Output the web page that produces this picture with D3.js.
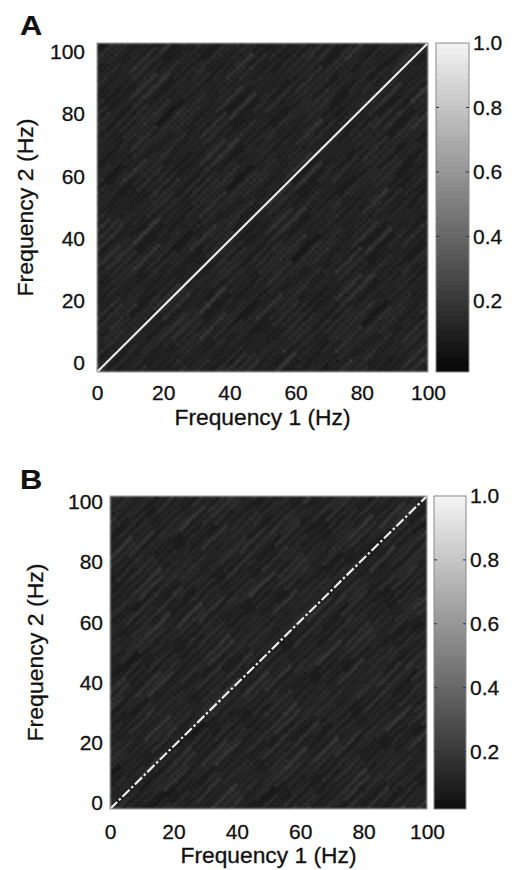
<!DOCTYPE html>
<html>
<head>
<meta charset="utf-8">
<script src="https://cdn.jsdelivr.net/npm/d3@7"></script>
<style>
  body { margin: 0; background: #fff; }
  svg text { font-family: "Liberation Sans", Arial, Helvetica, sans-serif; fill: #111; stroke: #111; stroke-width: 0.3px; }
</style>
</head>
<body>
<svg id="fig" width="512" height="870"></svg>
<script>
// ---------------- data ----------------
var freqTicks = [0, 20, 40, 60, 80, 100];
var cbTicks = [0.2, 0.4, 0.6, 0.8, 1.0];
var cbMarks = [0.2, 0.4, 0.6, 0.8];
var nBins = 100;          // 1 Hz bins, 0-100 Hz
var diagFreq = [0, 100];  // the f1 = f2 ridge

// background texture levels (estimated), indexed by diagonal offset f1-f2
var streakA = [0.2, 0.7, 0.1, 0.4, 0.9, 0.3, 0.0, 0.6, 0.2, 0.8, 0.4, 0.1, 0.5, 1.0, 0.3, 0.2, 0.7, 0.0, 0.4, 0.6,
               0.1, 0.9, 0.3, 0.5, 0.2, 0.8, 0.0, 0.4, 0.7, 0.2, 0.6, 0.1, 0.9, 0.3, 0.5, 0.0, 0.7, 0.4, 0.2, 0.8, 0.3];
// ... along the diagonal direction
var alongA = [0.6, 1.0, 0.3, 0.8, 0.1, 0.5, 0.9, 0.2, 0.7, 0.4, 1.0, 0.0, 0.6, 0.3, 0.8, 0.5, 0.2, 0.9, 0.4, 0.7,
              0.1, 0.6, 1.0, 0.3, 0.5, 0.8, 0.2, 0.7, 0.4];
// ... and faint broad patches
var patchA = [0.3, 0.8, 0.1, 0.6, 1.0, 0.4, 0.0, 0.7, 0.5, 0.2, 0.9, 0.35, 0.65];

var streakB = [0.5, 0.1, 0.8, 0.3, 0.0, 0.6, 1.0, 0.2, 0.4, 0.7, 0.1, 0.9, 0.3, 0.0, 0.5, 0.8, 0.2, 0.6, 0.4, 1.0,
               0.1, 0.3, 0.7, 0.0, 0.5, 0.9, 0.2, 0.4, 0.8, 0.1, 0.6, 0.3, 1.0, 0.0, 0.4, 0.7, 0.2, 0.5, 0.9, 0.1, 0.6, 0.3, 0.8];
var alongB = [0.4, 0.9, 0.2, 0.7, 1.0, 0.1, 0.5, 0.8, 0.3, 0.6, 0.0, 0.9, 0.4, 0.7, 0.2, 1.0, 0.5, 0.1, 0.8, 0.3,
              0.6, 0.9, 0.2, 0.4, 0.7, 0.0, 0.5, 1.0, 0.3, 0.8, 0.6];
var patchB = [0.6, 0.2, 0.9, 0.4, 0.0, 0.7, 0.3, 1.0, 0.5, 0.1, 0.8];

var panels = [
  { name: "A", streak: streakA, along: alongA, patch: patchA, dash: null,
    left: 97, right: 428, top: 43, bottom: 372, yInset: 9, yPad: 12, xPad: 13.5,
    cbLeft: 436, cbRight: 469, cbMin: -0.02, cbSteps: 64,
    xLabelY: 425, yLabelX: 33, letterY: 35 },
  { name: "B", streak: streakB, along: alongB, patch: patchB, dash: "10,2.5,2.5,2.5",
    left: 110, right: 427, top: 496, bottom: 809, yInset: 6, yPad: 7, xPad: 15.5,
    cbLeft: 434, cbRight: 466, cbMin: 0.02, cbSteps: 200,
    xLabelY: 863, yLabelX: 43, letterY: 489 }
];

// ---------------- drawing ----------------
var svg = d3.select("#fig");
var gray = d3.scaleLinear().domain([0, 1]).range(["#0a0a0a", "#f5f5f5"]);

var defs = svg.append("defs");
defs.append("filter").attr("id", "soft")
  .attr("x", 0).attr("y", 0).attr("width", 1).attr("height", 1)
  .append("feGaussianBlur").attr("stdDeviation", 0.9);

function wrap(n, m) { return ((n % m) + m) % m; }

function buildCells(p) {
  var cells = [];
  for (var i = 0; i < nBins; i++) {
    for (var j = 0; j < nBins; j++) {
      var d = wrap(i - j, p.streak.length);
      var k = wrap(Math.floor((i + j + d * 11) / 16) + d * 3, p.along.length);
      var q = wrap(Math.floor((i + j + d * 5) / 30) + d, p.patch.length);
      cells.push({ f1: i, f2: j,
        v: 0.065 + 0.15 * p.streak[d] * p.along[k] + 0.02 * p.patch[q] });
    }
  }
  return cells;
}

panels.forEach(function(p) {
  var x = d3.scaleLinear().domain([0, 100]).range([p.left, p.right]);
  var y = d3.scaleLinear().domain([0, 100]).range([p.bottom, p.top]);
  var yTick = d3.scaleLinear().domain([0, 100]).range([p.bottom - p.yInset, p.top + p.yInset]);

  var clipId = "clip" + p.name;
  defs.append("clipPath").attr("id", clipId)
    .append("rect")
    .attr("x", p.left).attr("y", p.top)
    .attr("width", p.right - p.left).attr("height", p.bottom - p.top);

  var outer = svg.append("g").attr("clip-path", "url(#" + clipId + ")");
  var heat = outer.append("g").attr("filter", "url(#soft)");

  var cw = x(1) - x(0), ch = y(0) - y(1);
  heat.selectAll("rect")
    .data(buildCells(p))
    .join("rect")
    .attr("x", d => x(d.f1))
    .attr("y", d => y(d.f2 + 1))
    .attr("width", cw + 0.4)
    .attr("height", ch + 0.4)
    .attr("shape-rendering", "crispEdges")
    .attr("fill", d => gray(d.v));

  // ridge along f1 = f2
  var ridge = outer.append("path")
    .datum(diagFreq.map(f => [f, f]))
    .attr("d", d3.line().x(d => x(d[0])).y(d => y(d[1])))
    .attr("fill", "none")
    .attr("stroke", "#ececec")
    .attr("stroke-width", 2.2);
  if (p.dash) ridge.attr("stroke-dasharray", p.dash);

  svg.append("rect")
    .attr("x", p.left).attr("y", p.top)
    .attr("width", p.right - p.left).attr("height", p.bottom - p.top)
    .attr("fill", "none").attr("stroke", "#777").attr("stroke-width", 0.8);

  // axes
  var xAxis = svg.append("g")
    .attr("transform", "translate(0," + p.bottom + ")")
    .call(d3.axisBottom(x).tickValues(freqTicks).tickSize(0).tickPadding(p.xPad));
  var yAxis = svg.append("g")
    .attr("transform", "translate(" + p.left + ",0)")
    .call(d3.axisLeft(yTick).tickValues(freqTicks).tickSize(0).tickPadding(p.yPad));
  [xAxis, yAxis].forEach(function(a) {
    a.select(".domain").remove();
    a.selectAll("text").style("font-size", "21px").attr("fill", "#111");
  });

  svg.append("text")
    .attr("x", (p.left + p.right) / 2).attr("y", p.xLabelY)
    .attr("text-anchor", "middle")
    .attr("textLength", 176).attr("lengthAdjust", "spacingAndGlyphs")
    .style("font-size", "22px")
    .text("Frequency 1 (Hz)");

  svg.append("text")
    .attr("transform", "translate(" + p.yLabelX + "," + (p.top + p.bottom) / 2 + ") rotate(-90)")
    .attr("text-anchor", "middle")
    .attr("textLength", 178).attr("lengthAdjust", "spacingAndGlyphs")
    .style("font-size", "22px")
    .text("Frequency 2 (Hz)");

  // panel letter
  svg.append("text")
    .attr("transform", "translate(20," + p.letterY + ") scale(1.1,1)")
    .style("font-size", "28px")
    .style("font-weight", "bold")
    .style("stroke-width", "0.2px")
    .text(p.name);

  // colour bar
  var cb = d3.scaleLinear().domain([p.cbMin, 1]).range([p.bottom, p.top]);
  var step = (1 - p.cbMin) / p.cbSteps;
  var levels = d3.range(p.cbSteps).map(k => p.cbMin + step * k);
  svg.append("g").selectAll("rect")
    .data(levels)
    .join("rect")
    .attr("x", p.cbLeft)
    .attr("y", d => cb(d + step))
    .attr("width", p.cbRight - p.cbLeft)
    .attr("height", d => cb(d) - cb(d + step) + 0.3)
    .attr("shape-rendering", "crispEdges")
    .attr("fill", d => gray(Math.max(0, d)));

  svg.append("rect")
    .attr("x", p.cbLeft).attr("y", p.top)
    .attr("width", p.cbRight - p.cbLeft).attr("height", p.bottom - p.top)
    .attr("fill", "none").attr("stroke", "#888").attr("stroke-width", 1);

  var marks = svg.append("g");
  cbMarks.forEach(function(t) {
    marks.append("line").attr("x1", p.cbLeft).attr("x2", p.cbLeft + 3)
      .attr("y1", cb(t)).attr("y2", cb(t)).attr("stroke", "#333");
    marks.append("line").attr("x1", p.cbRight - 3).attr("x2", p.cbRight)
      .attr("y1", cb(t)).attr("y2", cb(t)).attr("stroke", "#333");
  });

  var cbAxis = svg.append("g")
    .attr("transform", "translate(" + p.cbRight + ",0)")
    .call(d3.axisRight(cb).tickValues(cbTicks).tickFormat(d3.format(".1f")).tickSize(0).tickPadding(4));
  cbAxis.select(".domain").remove();
  cbAxis.selectAll("text").style("font-size", "21px").attr("fill", "#111");
});
</script>
</body>
</html>
